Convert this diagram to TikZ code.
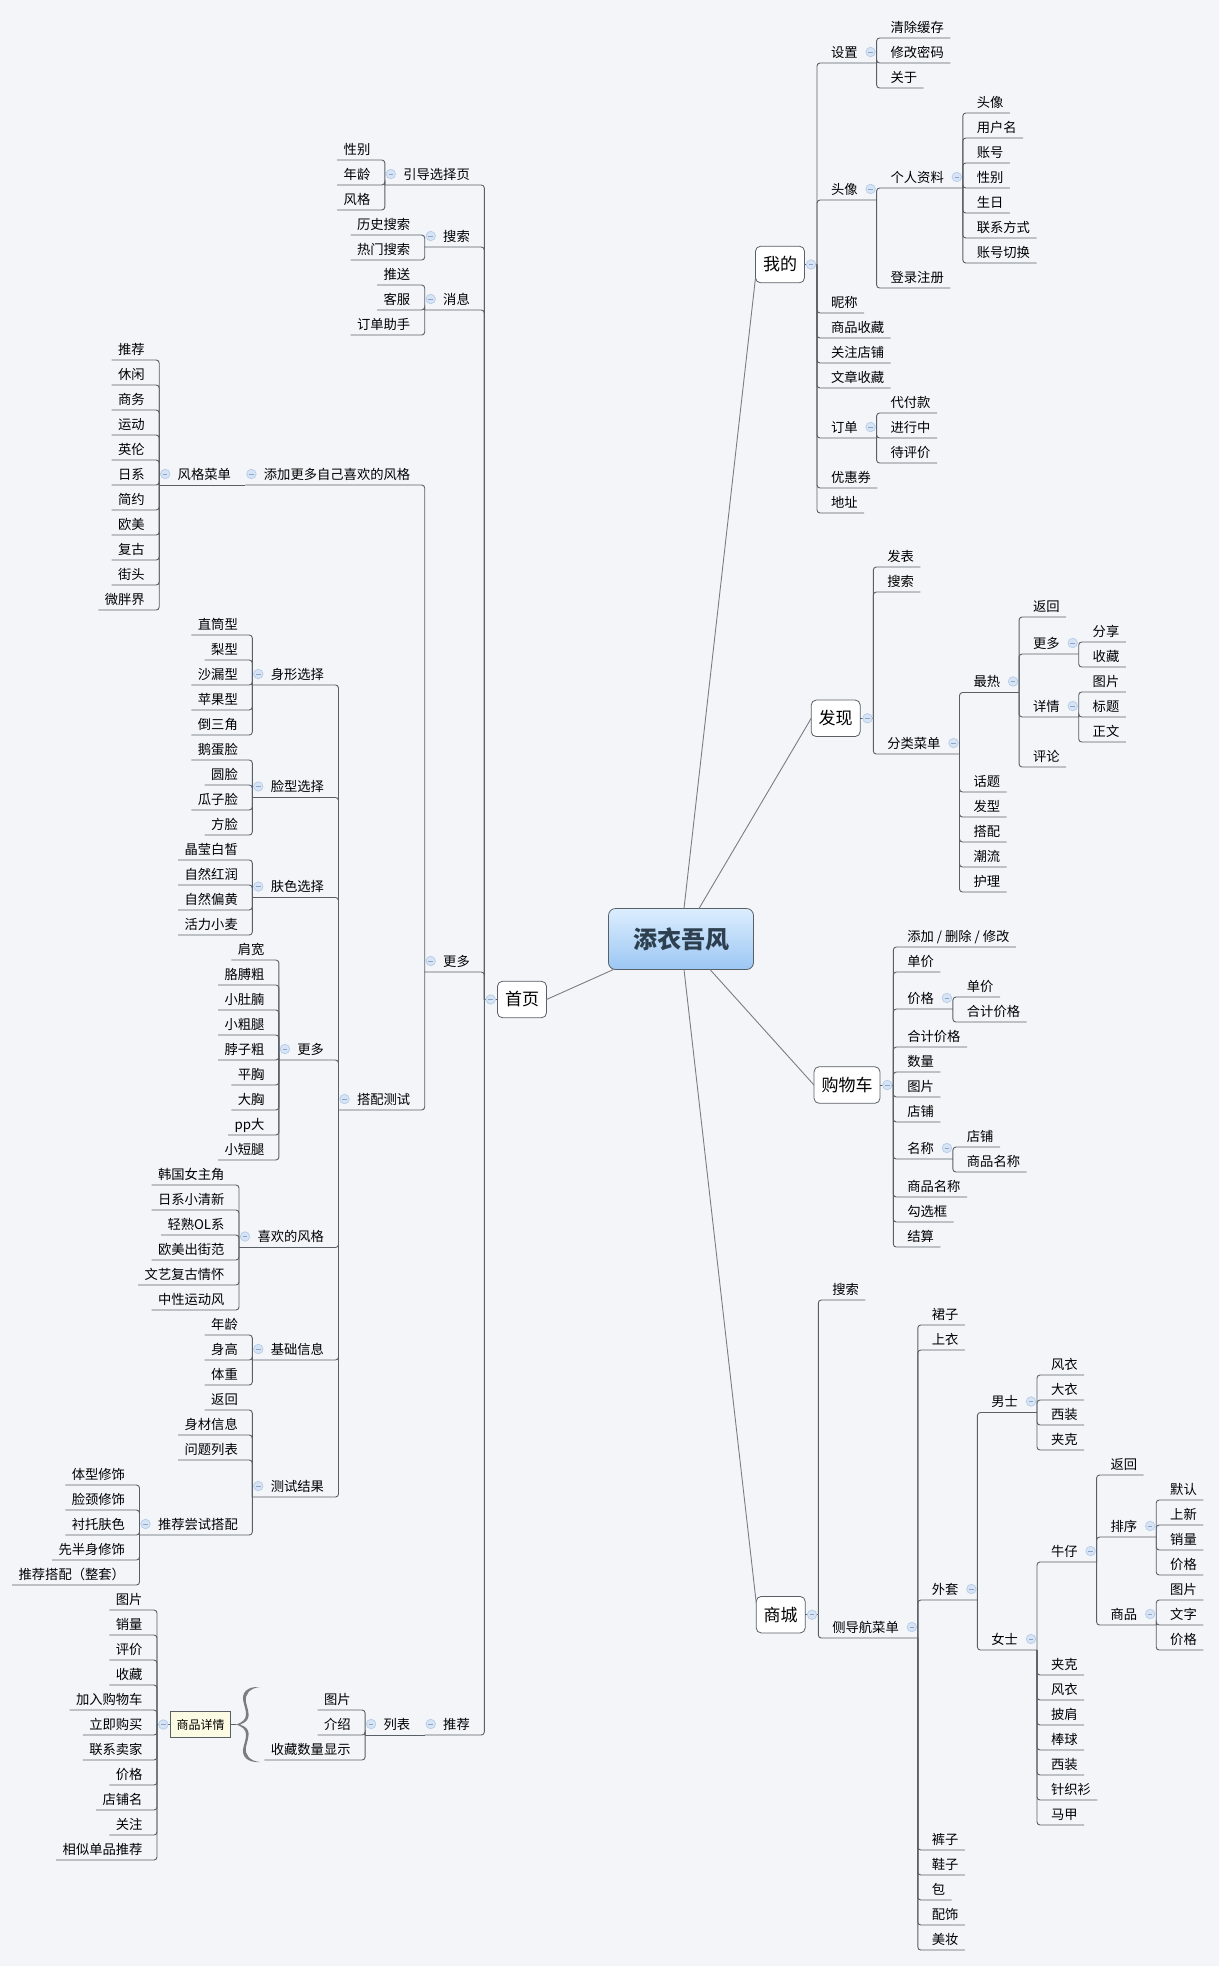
\documentclass[tikz,border=0pt]{standalone}
\usepackage{fontspec}
\setmainfont{Noto Sans CJK SC}
\definecolor{mapbg}{HTML}{F3F5F9}
\definecolor{linkgray}{HTML}{5A5F66}
\definecolor{edgegray}{HTML}{7A7D82}
\definecolor{markfill}{HTML}{D6E4F5}
\definecolor{markedge}{HTML}{B7CCE6}
\definecolor{markdash}{HTML}{8CA6C8}
\definecolor{detailfill}{HTML}{FBFAE3}
\definecolor{roottop}{HTML}{DCEEFE}
\definecolor{rootbottom}{HTML}{9BC6F3}
\definecolor{rootink}{HTML}{2E4050}
\newcommand{\rleaves}[3]{\foreach \txt [count=\i from 0] in {#3} {
    \node[rleaf] (#1-#2-\i) at (#1.south east |- 0,#2+25*\i) {\txt};
    \draw[link] (#1.south east) |- (#1-#2-\i.south east);
  }}
\newcommand{\lleaves}[3]{\foreach \txt [count=\i from 0] in {#3} {
    \node[lleaf] (#1-#2-\i) at (#1.south west |- 0,#2+25*\i) {\txt};
    \draw[link] (#1.south west) |- (#1-#2-\i.south west);
  }}
\newcommand{\rhub}[4]{
  \node[rhubnode] (#2) at (#1.south east |- 0,#3) {#4};
  \draw[link] (#1.south east) |- (#2.south east);
  \node[foldmark] (#2-m) at ([xshift=-6pt,yshift=11pt]#2.south east) {};
}
\newcommand{\lhub}[4]{
  \node[lhubnode] (#2) at (#1.south west |- 0,#3) {#4};
  \draw[link] (#1.south west) |- (#2.south west);
  \node[foldmark] (#2-m) at ([xshift=6pt,yshift=11pt]#2.south west) {};
}
\newcommand{\lnext}[3]{
  \node[lhubnode] (#2) at (#1.south west) {#3};
  \draw[link] (#1.south west) -- (#2.south west);
  \node[foldmark] (#2-m) at ([xshift=6pt,yshift=11pt]#2.south west) {};
}
\newcommand{\branchbox}[6]{
  \node[branch] (#1) at (#2,#3) {#4};
  \node[hubpoint] (#1-hub) at (#5,#3) {};
  \draw[link] (#1) -- (#1-hub);
  \node[foldmark] (#1-m) at (#6,#3) {};
}
\begin{document}
\begin{tikzpicture}[x=1pt,y=-1pt]
  \tikzstyle{link}=[draw=linkgray,line width=0.9pt,rounded corners=3pt]
  \tikzstyle{mainlink}=[draw=edgegray,line width=0.9pt]
  \tikzstyle{topic}=[inner sep=0pt,outer sep=0pt,
    font=\fontsize{13.3}{16}\selectfont,text height=16pt,text depth=6pt]
  \tikzstyle{rleaf}=[topic,anchor=south west,
    execute at begin node={\hspace*{14pt}},execute at end node={\hspace*{6.5pt}}]
  \tikzstyle{lleaf}=[topic,anchor=south east,
    execute at begin node={\hspace*{6.5pt}},execute at end node={\hspace*{14.5pt}}]
  \tikzstyle{rhubnode}=[topic,anchor=south west,
    execute at begin node={\hspace*{14pt}},execute at end node={\hspace*{19pt}}]
  \tikzstyle{lhubnode}=[topic,anchor=south east,
    execute at begin node={\hspace*{18.5pt}},execute at end node={\hspace*{14.5pt}}]
  \tikzstyle{hubpoint}=[inner sep=0pt,outer sep=0pt,minimum size=0pt]
  \tikzstyle{foldmark}=[circle,draw=markedge,fill=markfill,line width=0.7pt,
    minimum size=9.5pt,inner sep=0pt,
    path picture={\draw[markdash,line width=0.7pt]
      ([xshift=2.5pt]path picture bounding box.west) --
      ([xshift=-2.5pt]path picture bounding box.east);}]
  \tikzstyle{branch}=[draw=linkgray,line width=0.8pt,fill=white,rounded corners=5pt,
    font=\fontsize{17}{20}\selectfont,inner xsep=7.5pt,inner ysep=0pt,
    minimum height=36.5pt,outer sep=0pt]
  \tikzstyle{central}=[draw=linkgray,line width=0.8pt,top color=roottop,
    bottom color=rootbottom,rounded corners=7pt,text=rootink,
    font=\fontsize{24}{28}\bfseries,minimum width=145pt,minimum height=61pt,outer sep=0pt]
  \tikzstyle{detailbox}=[draw=linkgray,line width=0.8pt,fill=detailfill,
    font=\fontsize{12}{14}\selectfont,minimum width=60.4pt,minimum height=25.6pt,
    inner sep=0pt,outer sep=0pt]

  \path[use as bounding box,fill=mapbg] (0,0) rectangle (1219,1966);

  \branchbox{wode}{780}{264.5}{我的}{817}{811}
  \rhub{wode-hub}{shezhi}{63}{设置}
  \rleaves{shezhi}{38}{清除缓存,修改密码,关于}
  \rhub{wode-hub}{touxiang}{200}{头像}
  \rhub{touxiang}{ziliao}{188}{个人资料}
  \rleaves{ziliao}{113}{头像,用户名,账号,性别,生日,联系方式,账号切换}
  \rleaves{touxiang}{288}{登录注册}
  \rleaves{wode-hub}{313}{昵称,商品收藏,关注店铺,文章收藏}
  \rhub{wode-hub}{dingdan}{438}{订单}
  \rleaves{dingdan}{413}{代付款,进行中,待评价}
  \rleaves{wode-hub}{488}{优惠券,地址}

  \branchbox{faxian}{835.7}{718.3}{发现}{873.3}{867.5}
  \rleaves{faxian-hub}{567}{发表,搜索}
  \rhub{faxian-hub}{fenlei}{754}{分类菜单}
  \rhub{fenlei}{zuire}{692.5}{最热}
  \rleaves{zuire}{617}{返回}
  \rhub{zuire}{gengduo}{654}{更多}
  \rleaves{gengduo}{642}{分享,收藏}
  \rhub{zuire}{xiangqing}{717}{详情}
  \rleaves{xiangqing}{692}{图片,标题,正文}
  \rleaves{zuire}{767}{评论}
  \rleaves{fenlei}{792}{话题,发型,搭配,潮流,护理}

  \branchbox{gouwuche}{847}{1085}{购物车}{893.3}{887.3}
  \rleaves{gouwuche-hub}{947}{添加 / 删除 / 修改,单价}
  \rhub{gouwuche-hub}{jiage}{1009}{价格}
  \rleaves{jiage}{997}{单价,合计价格}
  \rleaves{gouwuche-hub}{1047}{合计价格,数量,图片,店铺}
  \rhub{gouwuche-hub}{mingcheng}{1159}{名称}
  \rleaves{mingcheng}{1147}{店铺,商品名称}
  \rleaves{gouwuche-hub}{1197}{商品名称,勾选框,结算}

  \branchbox{shangcheng}{780.7}{1614.7}{商城}{818.3}{812}
  \rleaves{shangcheng-hub}{1300}{搜索}
  \rhub{shangcheng-hub}{cedaohang}{1638}{侧导航菜单}
  \rleaves{cedaohang}{1325}{裙子,上衣}
  \rhub{cedaohang}{waitao}{1600}{外套}
  \rhub{waitao}{nanshi}{1412.5}{男士}
  \rleaves{nanshi}{1375}{风衣,大衣,西装,夹克}
  \rhub{waitao}{nvshi}{1650}{女士}
  \rhub{nvshi}{niuzai}{1562}{牛仔}
  \rleaves{niuzai}{1475}{返回}
  \rhub{niuzai}{paixu}{1537}{排序}
  \rleaves{paixu}{1500}{默认,上新,销量,价格}
  \rhub{niuzai}{shangpin}{1625}{商品}
  \rleaves{shangpin}{1600}{图片,文字,价格}
  \rleaves{nvshi}{1675}{夹克,风衣,披肩,棒球,西装,针织衫,马甲}
  \rleaves{cedaohang}{1850}{裤子,鞋子,包,配饰,美妆}

  \branchbox{shouye}{522}{999.5}{首页}{484.3}{490.7}
  \lhub{shouye-hub}{yindao}{185}{引导选择页}
  \lleaves{yindao}{160}{性别,年龄,风格}
  \lhub{shouye-hub}{sousuo}{247}{搜索}
  \lleaves{sousuo}{235}{历史搜索,热门搜索}
  \lhub{shouye-hub}{xiaoxi}{310}{消息}
  \lleaves{xiaoxi}{285}{推送,客服,订单助手}
  \lhub{shouye-hub}{more}{972}{更多}
  \lhub{more}{tianjia}{485}{添加更多自己喜欢的风格}
  \lnext{tianjia}{fengge}{风格菜单}
  \lleaves{fengge}{360}{推荐,休闲,商务,运动,英伦,日系,简约,欧美,复古,街头,微胖界}
  \lhub{more}{dapei}{1110}{搭配测试}
  \lhub{dapei}{shenxing}{685}{身形选择}
  \lleaves{shenxing}{635}{直筒型,梨型,沙漏型,苹果型,倒三角}
  \lhub{dapei}{lianxing}{797.5}{脸型选择}
  \lleaves{lianxing}{760}{鹅蛋脸,圆脸,瓜子脸,方脸}
  \lhub{dapei}{fuse}{897.5}{肤色选择}
  \lleaves{fuse}{860}{晶莹白皙,自然红润,自然偏黄,活力小麦}
  \lhub{dapei}{moretest}{1060}{更多}
  \lleaves{moretest}{960}{肩宽,胳膊粗,小肚腩,小粗腿,脖子粗,平胸,大胸,pp大,小短腿}
  \lhub{dapei}{xihuan}{1247.5}{喜欢的风格}
  \lleaves{xihuan}{1185}{韩国女主角,日系小清新,轻熟OL系,欧美出街范,文艺复古情怀,中性运动风}
  \lhub{dapei}{jichu}{1360}{基础信息}
  \lleaves{jichu}{1335}{年龄,身高,体重}
  \lhub{dapei}{jieguo}{1497}{测试结果}
  \lleaves{jieguo}{1410}{返回,身材信息,问题列表}
  \lhub{jieguo}{changshi}{1535}{推荐尝试搭配}
  \lleaves{changshi}{1485}{体型修饰,脸颈修饰,衬托肤色,先半身修饰,推荐搭配（整套）}
  \lhub{shouye-hub}{tuijian}{1735}{推荐}
  \lnext{tuijian}{liebiao}{列表}
  \lleaves{liebiao}{1710}{图片,介绍,收藏数量显示}

  \node[detailbox] (detail) at (200.5,1724.5) {商品详情};
  \node[hubpoint] (detail-hub) at (157,1724.5) {};
  \coordinate (bracetip) at (236,1724.5);
  \draw[link] (detail) -- (detail-hub);
  \draw[link] (detail) -- (bracetip);
  \node[foldmark] (detail-m) at (163.3,1724.5) {};
  \lleaves{detail-hub}{1610}{图片,销量,评价,收藏,加入购物车,立即购买,联系卖家,价格,店铺名,关注,相似单品推荐}
  \fill[edgegray] (260,1687) .. controls (247,1686) and (241,1693) .. (243.5,1702)
    .. controls (246,1712) and (250,1720) .. (236,1724.5)
    .. controls (250,1729) and (246,1737) .. (243.5,1747)
    .. controls (241,1756) and (247,1763) .. (260,1762)
    .. controls (250,1761) and (244.5,1755) .. (246,1747)
    .. controls (248,1737) and (253,1729) .. (240,1724.5)
    .. controls (253,1720) and (248,1712) .. (246,1702)
    .. controls (244.5,1694) and (250,1688) .. (260,1687) -- cycle;

  \node[central] (tianyi) at (681,939) {添衣吾风};
  \draw[mainlink] ([xshift=3pt]tianyi.north) -- ([yshift=5pt]wode.south west);
  \draw[mainlink] ([xshift=18pt]tianyi.north) -- (faxian.west);
  \draw[mainlink] ([xshift=29pt]tianyi.south) -- (gouwuche.west);
  \draw[mainlink] ([xshift=3pt]tianyi.south) -- ([yshift=-6pt]shangcheng.north west);
  \draw[mainlink] (shouye.east) -- ([xshift=5pt]tianyi.south west);
\end{tikzpicture}
\end{document}
